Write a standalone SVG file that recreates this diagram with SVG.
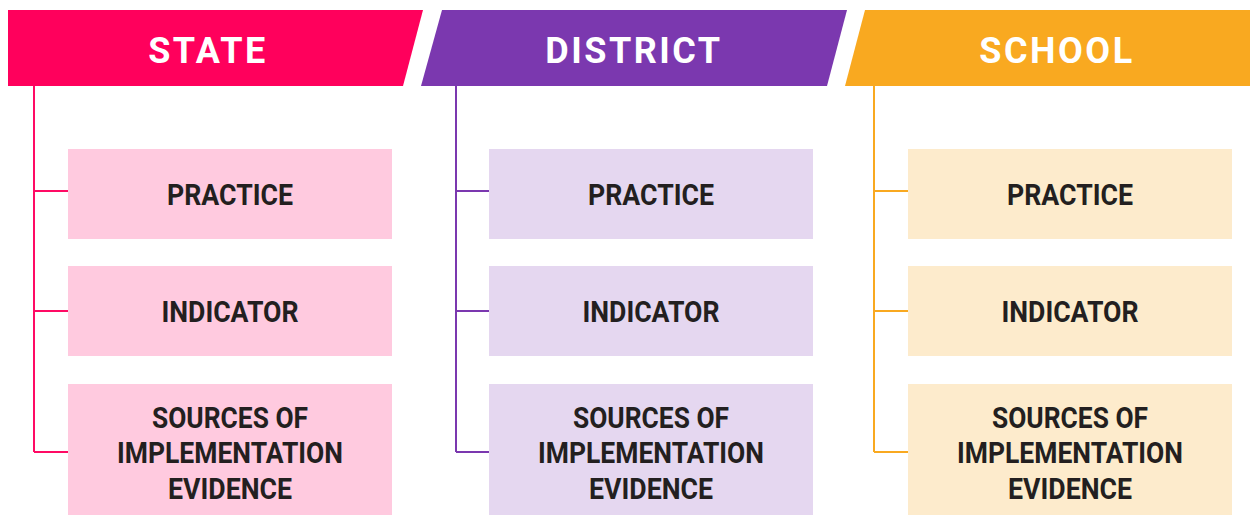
<svg xmlns="http://www.w3.org/2000/svg" width="1250" height="515" viewBox="0 0 1250 515">
<style>
.hdr{font-family:Roboto,"Liberation Sans",sans-serif;font-weight:700;font-size:36px;fill:#fff;text-anchor:middle;letter-spacing:2.5px}
.lbl{font-family:Roboto,"Liberation Sans",sans-serif;font-weight:700;font-size:29.5px;fill:#231f20;text-anchor:middle}
.c1{stroke:#ff0a64;stroke-width:2;fill:none}
.c2{stroke:#7b38af;stroke-width:2;fill:none}
.c3{stroke:#f9a920;stroke-width:2;fill:none}
.b1{fill:#ffcadf}.b2{fill:#e5d7f0}.b3{fill:#fdebcc}
</style>
<rect width="1250" height="515" fill="#fff"/>
<g id="connectors">
<path class="c1" d="M34 86V452M34 191H68M34 311H68M34 452H68"/>
<path class="c2" d="M456 86V452M456 191H489M456 311H489M456 452H489"/>
<path class="c3" d="M874 86V452M874 191H908M874 311H908M874 452H908"/>
</g>
<g id="state">
<polygon points="8,10 423,10 403,86 8,86" fill="#ff005c"/>
<text class="hdr" x="208" y="63">STATE</text>
</g>
<g id="district">
<polygon points="442,10 847,10 827,86 421,86" fill="#7b38af"/>
<text class="hdr" x="634" y="63">DISTRICT</text>
</g>
<g id="school">
<polygon points="865,10 1250,10 1250,86 845,86" fill="#f9a920"/>
<text class="hdr" x="1057" y="63">SCHOOL</text>
</g>
<g id="state-practice"><rect class="b1" x="68" y="149" width="324" height="90"/><text class="lbl" x="230" y="205" textLength="126" lengthAdjust="spacingAndGlyphs">PRACTICE</text></g>
<g id="state-indicator"><rect class="b1" x="68" y="266" width="324" height="90"/><text class="lbl" x="230" y="322" textLength="137" lengthAdjust="spacingAndGlyphs">INDICATOR</text></g>
<g id="state-sources"><rect class="b1" x="68" y="384" width="324" height="131"/>
<text class="lbl" x="230" y="428" textLength="156" lengthAdjust="spacingAndGlyphs">SOURCES OF</text>
<text class="lbl" x="230" y="463" textLength="226" lengthAdjust="spacingAndGlyphs">IMPLEMENTATION</text>
<text class="lbl" x="230" y="499" textLength="124" lengthAdjust="spacingAndGlyphs">EVIDENCE</text></g>
<g id="district-practice"><rect class="b2" x="489" y="149" width="324" height="90"/><text class="lbl" x="651" y="205" textLength="126" lengthAdjust="spacingAndGlyphs">PRACTICE</text></g>
<g id="district-indicator"><rect class="b2" x="489" y="266" width="324" height="90"/><text class="lbl" x="651" y="322" textLength="137" lengthAdjust="spacingAndGlyphs">INDICATOR</text></g>
<g id="district-sources"><rect class="b2" x="489" y="384" width="324" height="131"/>
<text class="lbl" x="651" y="428" textLength="156" lengthAdjust="spacingAndGlyphs">SOURCES OF</text>
<text class="lbl" x="651" y="463" textLength="226" lengthAdjust="spacingAndGlyphs">IMPLEMENTATION</text>
<text class="lbl" x="651" y="499" textLength="124" lengthAdjust="spacingAndGlyphs">EVIDENCE</text></g>
<g id="school-practice"><rect class="b3" x="908" y="149" width="324" height="90"/><text class="lbl" x="1070" y="205" textLength="126" lengthAdjust="spacingAndGlyphs">PRACTICE</text></g>
<g id="school-indicator"><rect class="b3" x="908" y="266" width="324" height="90"/><text class="lbl" x="1070" y="322" textLength="137" lengthAdjust="spacingAndGlyphs">INDICATOR</text></g>
<g id="school-sources"><rect class="b3" x="908" y="384" width="324" height="131"/>
<text class="lbl" x="1070" y="428" textLength="156" lengthAdjust="spacingAndGlyphs">SOURCES OF</text>
<text class="lbl" x="1070" y="463" textLength="226" lengthAdjust="spacingAndGlyphs">IMPLEMENTATION</text>
<text class="lbl" x="1070" y="499" textLength="124" lengthAdjust="spacingAndGlyphs">EVIDENCE</text></g>
</svg>
